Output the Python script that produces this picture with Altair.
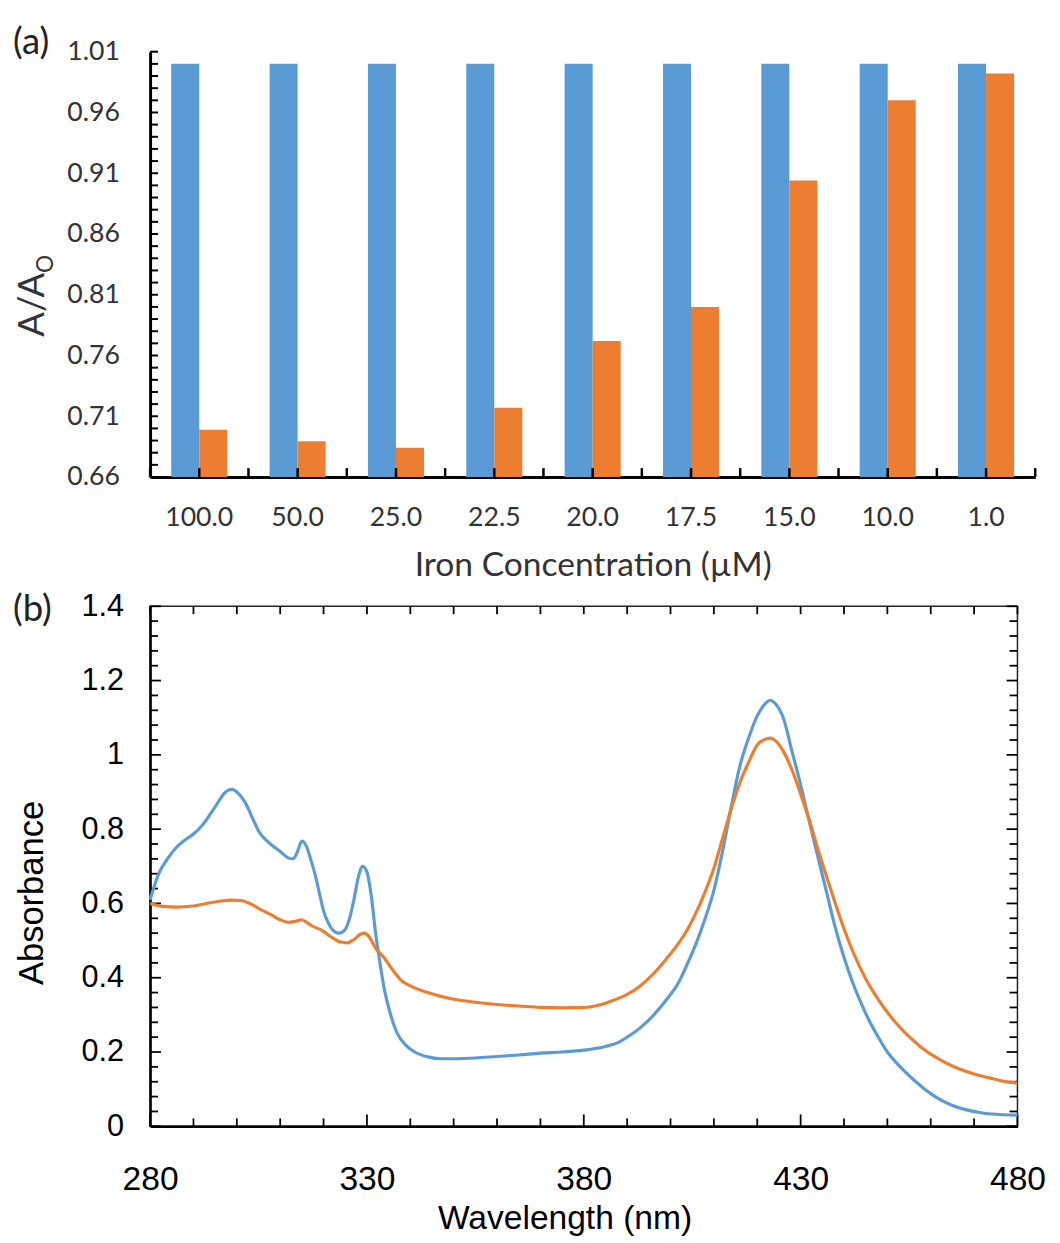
import altair as alt
import pandas as pd

# ---------------- panel (a) data ----------------
categories = ["100.0", "50.0", "25.0", "22.5", "20.0", "17.5", "15.0", "10.0", "1.0"]
series_names = ["A0", "A"]
blue_vals = [1.0, 1.0, 1.0, 1.0, 1.0, 1.0, 1.0, 1.0, 1.0]
orange_vals = [0.699, 0.6895, 0.684, 0.717, 0.772, 0.800, 0.904, 0.970, 0.992]
y_major_a = [0.66, 0.71, 0.76, 0.81, 0.86, 0.91, 0.96, 1.01]
y_minor_a = [round(0.66 + 0.01 * i, 2) for i in range(36)]

# ---------------- panel (b) data ----------------
wl_blue = [280, 282, 284, 286, 288, 290, 292, 295, 297, 298, 299, 300, 302, 304, 305, 307,
           310, 312, 313, 314, 315, 316, 317, 318, 319, 320, 321, 322, 323.5, 325, 326, 327,
           328, 329, 330, 331, 332, 333, 334, 335, 336, 337, 339, 341, 344, 347, 350, 355,
           360, 365, 370, 375, 380, 385, 388, 390, 393, 396, 399, 402, 404, 406, 408, 410,
           412, 414, 416, 418, 420, 421, 422, 423, 424, 425, 426, 428, 430, 432, 434, 436,
           438, 440, 442, 444, 446, 448, 450, 452, 454, 456, 458, 460, 462, 465, 468, 471,
           474, 477, 480]
abs_blue = [0.61, 0.68, 0.72, 0.75, 0.77, 0.787, 0.81, 0.86, 0.895, 0.905, 0.907, 0.90, 0.87,
            0.82, 0.795, 0.768, 0.74, 0.722, 0.72, 0.74, 0.768, 0.755, 0.72, 0.68, 0.63, 0.58,
            0.55, 0.53, 0.52, 0.53, 0.56, 0.61, 0.67, 0.70, 0.685, 0.62, 0.52, 0.44, 0.37, 0.32,
            0.28, 0.25, 0.218, 0.20, 0.187, 0.182, 0.182, 0.184, 0.188, 0.192, 0.197, 0.20,
            0.205, 0.215, 0.226, 0.24, 0.265, 0.298, 0.34, 0.39, 0.44, 0.495, 0.56, 0.635, 0.74,
            0.86, 0.97, 1.045, 1.105, 1.125, 1.14, 1.147, 1.14, 1.125, 1.10, 1.01, 0.92, 0.82,
            0.725, 0.63, 0.535, 0.455, 0.387, 0.33, 0.28, 0.238, 0.20, 0.172, 0.148, 0.126,
            0.106, 0.088, 0.073, 0.056, 0.045, 0.038, 0.033, 0.031, 0.03]
wl_orange = [280, 283, 286, 290, 293, 296, 299, 301, 303, 305, 308, 310, 312, 313.5, 315, 316,
             317, 320, 322, 324, 325.5, 327, 328.5, 329.5, 330.5, 332, 334, 336, 338, 340, 344,
             350, 355, 360, 365, 370, 375, 380, 384, 387, 390, 393, 396, 399, 402, 404, 406,
             408, 410, 412, 414, 416, 418, 420, 422, 423, 424, 426, 428, 430, 432, 434, 436,
             438, 440, 442, 445, 448, 450, 452, 454, 456, 458, 462, 466, 470, 474, 477, 480]
abs_orange = [0.60, 0.592, 0.59, 0.593, 0.60, 0.606, 0.609, 0.608, 0.60, 0.587, 0.569, 0.556,
              0.549, 0.552, 0.556, 0.55, 0.542, 0.525, 0.508, 0.496, 0.494, 0.503, 0.517, 0.52,
              0.51, 0.48, 0.453, 0.42, 0.392, 0.378, 0.36, 0.342, 0.334, 0.328, 0.324, 0.32,
              0.319, 0.32, 0.328, 0.34, 0.355, 0.378, 0.41, 0.45, 0.495, 0.532, 0.578, 0.632,
              0.695, 0.775, 0.855, 0.925, 0.98, 1.027, 1.043, 1.045, 1.04, 1.01, 0.96, 0.895,
              0.825, 0.745, 0.672, 0.60, 0.532, 0.472, 0.397, 0.34, 0.307, 0.278, 0.253, 0.231,
              0.211, 0.18, 0.157, 0.141, 0.129, 0.121, 0.116]
x_labels_b = [280, 330, 380, 430, 480]
x_minor_b = [280 + 10 * i for i in range(21)]
y_labels_b = [0, 0.2, 0.4, 0.6, 0.8, 1.0, 1.2, 1.4]
y_minor_b = [round(0.04 * i, 2) for i in range(36)]

BLUE_A, ORANGE_A = "#5B9BD5", "#ED7D31"
BLUE_B, ORANGE_B = "#5C9AD2", "#E07B39"

X0 = 151
W1, H1 = 897, 431
W2, H2 = 879, 527

# ================= panel (a) =================
bar_df = pd.DataFrame({
    "cat": categories * 2,
    "series": [series_names[0]] * 9 + [series_names[1]] * 9,
    "val": blue_vals + orange_vals,
})
xs1 = alt.Scale(domain=categories, paddingInner=0, paddingOuter=0)
ys1 = alt.Scale(domain=[0.66, 1.01], zero=False, nice=False)

bars = alt.Chart(bar_df).mark_bar().encode(
    x=alt.X("cat:N", scale=xs1, axis=alt.Axis(
        title="Iron Concentration (µM)", labelAngle=0, labelFont="Lato", labelFontSize=27,
        labelColor="#333333", labelPadding=28, ticks=False, domainColor="black",
        domainWidth=3, grid=False, titleFont="Lato", titleFontSize=34,
        titleFontWeight="normal", titleColor="#333333", titleY=90,
        titleBaseline="middle")),
    xOffset=alt.XOffset("series:N", sort=series_names,
                        scale=alt.Scale(paddingInner=0, paddingOuter=0.754)),
    y=alt.Y("val:Q", scale=ys1, axis=alt.Axis(
        values=y_major_a, format=".2f", labelFont="Lato", labelFontSize=27,
        labelColor="#333333", labelPadding=31, ticks=False, domainColor="black",
        domainWidth=3, grid=False, title="A/A", titleFont="Lato", titleFontSize=37,
        titleFontWeight="normal", titleColor="#333333", titleX=32 - X0, titleY=302 - 46,
        titleAngle=270, titleBaseline="middle", titleAlign="center")),
    y2=alt.datum(0.66),
    color=alt.Color("series:N", scale=alt.Scale(domain=series_names,
                                                range=[BLUE_A, ORANGE_A]), legend=None),
)

ytick_a = alt.Chart(pd.DataFrame({"val": y_minor_a})).mark_rule(
    color="black", strokeWidth=2).encode(
    y=alt.Y("val:Q", scale=ys1), x=alt.value(0), x2=alt.value(8))

cat_df = pd.DataFrame({"cat": categories})
xtick_c = alt.Chart(cat_df).mark_rule(color="black", strokeWidth=2.5).encode(
    x=alt.X("cat:N", scale=xs1), y=alt.value(H1), y2=alt.value(H1 - 9))
xtick_b = alt.Chart(cat_df).mark_rule(color="black", strokeWidth=2.5).encode(
    x=alt.X("cat:N", scale=xs1, bandPosition=0), y=alt.value(H1), y2=alt.value(H1 - 9))
xtick_end = alt.Chart(pd.DataFrame({"k": [1]})).mark_rule(
    color="black", strokeWidth=2.5).encode(
    x=alt.value(W1), y=alt.value(H1), y2=alt.value(H1 - 9))

label_a = alt.Chart(pd.DataFrame({"t": ["(a)"]})).mark_text(
    font="Lato", fontSize=37, align="left", baseline="middle", color="#222").encode(
    text="t:N", x=alt.value(12 - X0), y=alt.value(37 - 46))
sub_o = alt.Chart(pd.DataFrame({"t": ["O"]})).mark_text(
    font="Lato", fontSize=23, align="center", baseline="middle", angle=270,
    color="#333333").encode(
    text="t:N", x=alt.value(46 - X0), y=alt.value(261 - 46))

top = alt.layer(bars, ytick_a, xtick_c, xtick_b, xtick_end, label_a, sub_o).properties(
    width=W1, height=H1)

# ================= panel (b) =================
spec_df = pd.DataFrame({
    "wl": wl_blue + wl_orange,
    "absb": abs_blue + abs_orange,
    "series": ["A0"] * len(wl_blue) + ["A"] * len(wl_orange),
})
xs2 = alt.Scale(domain=[280, 480], zero=False, nice=False)
ys2 = alt.Scale(domain=[0, 1.4], zero=False, nice=False)

lines = alt.Chart(spec_df).mark_line(strokeWidth=3.2, interpolate="monotone").encode(
    x=alt.X("wl:Q", scale=xs2, axis=alt.Axis(
        values=x_labels_b, labelFont="Liberation Sans", labelFontSize=34,
        labelColor="black", labelPadding=37, labelFlush=False, ticks=False,
        domainColor="black", domainWidth=2.5, grid=False, title="Wavelength (nm)",
        titleFont="Liberation Sans", titleFontSize=34, titleFontWeight="normal",
        titleColor="black", titleX=571 - X0, titleY=94, titleBaseline="middle",
        titleAlign="center")),
    y=alt.Y("absb:Q", scale=ys2, axis=alt.Axis(
        values=y_labels_b, format="~g", labelFont="Liberation Sans", labelFontSize=31,
        labelColor="black", labelPadding=27, ticks=False, domainColor="black",
        domainWidth=2.5, grid=False, title="Absorbance", titleFont="Liberation Sans",
        titleFontSize=35, titleFontWeight="normal", titleColor="black",
        titleX=31 - X0, titleY=290, titleAngle=270, titleBaseline="middle",
        titleAlign="center")),
    color=alt.Color("series:N", scale=alt.Scale(domain=series_names,
                                                range=[BLUE_B, ORANGE_B]), legend=None),
    detail="series:N",
)

xmaj = pd.DataFrame({"wl": x_labels_b})
xmin = pd.DataFrame({"wl": [v for v in x_minor_b if v not in x_labels_b]})
xall = pd.DataFrame({"wl": x_minor_b})
ymaj = pd.DataFrame({"absb": y_labels_b})
ymin = pd.DataFrame({"absb": [v for v in y_minor_b if round(v / 0.2, 6) % 1 != 0]})

tk = dict(color="black", strokeWidth=1.8)
t_bot_min = alt.Chart(xmin).mark_rule(**tk).encode(
    x=alt.X("wl:Q", scale=xs2), y=alt.value(H2), y2=alt.value(H2 - 8))
t_bot_maj = alt.Chart(xmaj).mark_rule(**tk).encode(
    x=alt.X("wl:Q", scale=xs2), y=alt.value(H2), y2=alt.value(H2 - 12))
t_top = alt.Chart(xall).mark_rule(**tk).encode(
    x=alt.X("wl:Q", scale=xs2), y=alt.value(0), y2=alt.value(8))
t_l_min = alt.Chart(ymin).mark_rule(**tk).encode(
    y=alt.Y("absb:Q", scale=ys2), x=alt.value(0), x2=alt.value(8))
t_l_maj = alt.Chart(ymaj).mark_rule(**tk).encode(
    y=alt.Y("absb:Q", scale=ys2), x=alt.value(0), x2=alt.value(11))
t_r_min = alt.Chart(ymin).mark_rule(**tk).encode(
    y=alt.Y("absb:Q", scale=ys2), x=alt.value(W2), x2=alt.value(W2 - 8))
t_r_maj = alt.Chart(ymaj).mark_rule(**tk).encode(
    y=alt.Y("absb:Q", scale=ys2), x=alt.value(W2), x2=alt.value(W2 - 11))

label_b = alt.Chart(pd.DataFrame({"t": ["(b)"]})).mark_text(
    font="Lato", fontSize=37, align="left", baseline="middle", color="#222").encode(
    text="t:N", x=alt.value(12 - X0), y=alt.value(612 - 608))

bottom = alt.layer(t_bot_min, t_bot_maj, t_top, t_l_min, t_l_maj, t_r_min, t_r_maj,
                   lines, label_b).properties(
    width=W2, height=H2,
    view=alt.ViewBackground(stroke="#222", strokeWidth=1.5))

chart = alt.vconcat(top, bottom, spacing=131, bounds="flush").properties(
    padding={"left": 4, "top": 8, "right": 5, "bottom": 2}
).configure_view(strokeWidth=0)

chart.save("out.html", embed_options={"renderer": "svg", "actions": False})
